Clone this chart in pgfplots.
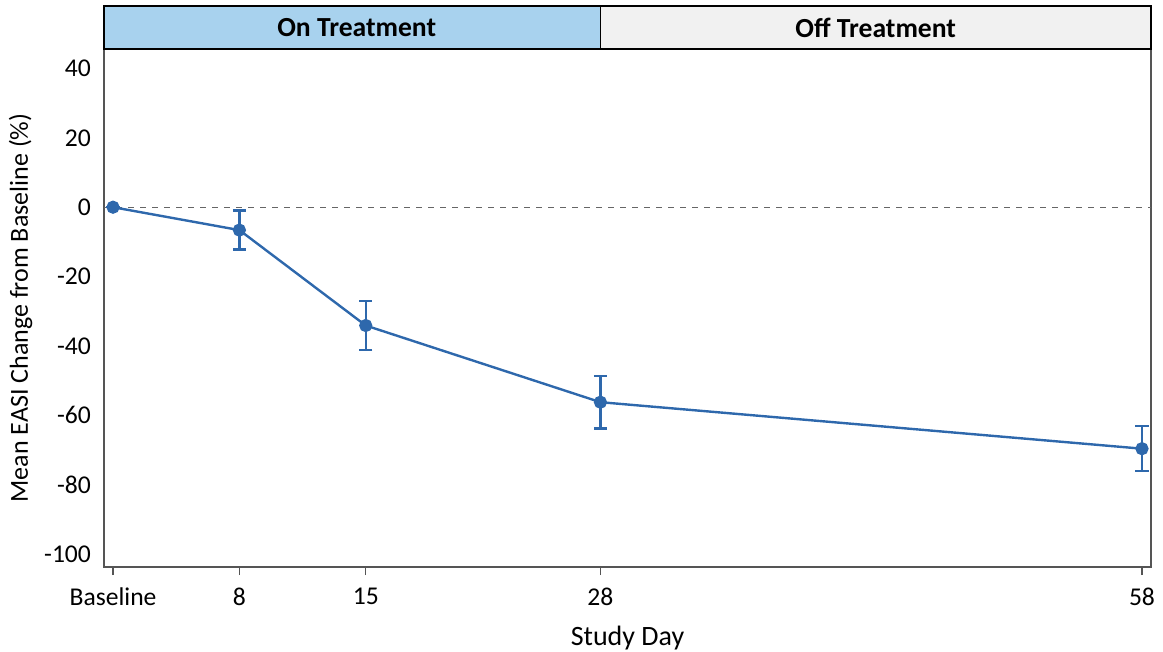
\documentclass[border=0pt]{standalone}
\usepackage{pgfplots}
\pgfplotsset{compat=1.18}
\usepackage{fontspec}
\setmainfont{Carlito}
\definecolor{lineblue}{RGB}{46,104,172}
\definecolor{onfill}{RGB}{168,210,238}
\definecolor{offfill}{RGB}{241,241,241}
\definecolor{axgray}{RGB}{85,85,85}
\begin{document}
\begin{tikzpicture}
\begin{axis}[
  scale only axis,
  width=523.5pt, height=259pt,
  xmin=0.5, xmax=58.5,
  ymin=-103.7, ymax=45.6,
  xtick={1,8,15,28,58},
  xticklabels={Baseline,8,15,28,58},
  ytick={-100,-80,-60,-40,-20,0,20,40},
  xtick pos=bottom,
  ytick pos=left,
  tick align=outside,
  x tick style={draw=axgray, line width=0.6pt},
  major tick length=4pt,
  ytick style={draw=none},
  axis line style={draw=axgray, line width=0.7pt},
  every tick label/.style={font=\fontsize{12.8}{15}\selectfont},
  /pgf/number format/assume math mode=true,
  yticklabel style={xshift=1pt},
  xticklabel style={yshift=-3pt},
  xlabel={Study Day},
  ylabel={Mean EASI Change from Baseline (\%)},
  xlabel style={font=\fontsize{14}{16}\selectfont, yshift=-3pt},
  ylabel style={font=\fontsize{13}{15}\selectfont, yshift=-1pt},
  clip=false,
]
\draw[dashed, color=axgray!90, line width=0.6pt] (axis cs:0.5,0) -- (axis cs:58.5,0);
\addplot[color=lineblue, line width=1.2pt, mark=*, mark size=2.7pt,
  mark options={fill=lineblue, draw=lineblue},
  error bars/.cd, y dir=both, y explicit,
  error bar style={line width=1.2pt, color=lineblue},
  error mark options={rotate=90, mark size=3.3pt, line width=1.2pt, color=lineblue}]
  coordinates {
    (1,0) +- (0,0)
    (8,-6.6) +- (0,5.6)
    (15,-34.1) +- (0,7.0)
    (28,-56.2) +- (0,7.6)
    (58,-69.6) +- (0,6.5)
  };
\draw[line width=0.7pt, fill=onfill] (rel axis cs:0,1) rectangle ([yshift=21.5pt]axis cs:28,45.6);
\draw[line width=0.7pt, fill=offfill] (axis cs:28,45.6) rectangle ([yshift=21.5pt]rel axis cs:1,1);
\node[font=\fontsize{13.8}{16}\selectfont\bfseries] at ([yshift=10.75pt]axis cs:14.5,45.6) {On Treatment};
\node[font=\fontsize{13.8}{16}\selectfont\bfseries] at ([yshift=10.75pt]axis cs:43.25,45.6) {Off Treatment};
\coordinate (bl) at ([xshift=-52pt,yshift=-42pt]rel axis cs:0,0);
\coordinate (tr) at ([xshift=6pt,yshift=24.5pt]rel axis cs:1,1);
\end{axis}
\pgfresetboundingbox
\path[use as bounding box] (bl) rectangle (tr);
\end{tikzpicture}
\end{document}
